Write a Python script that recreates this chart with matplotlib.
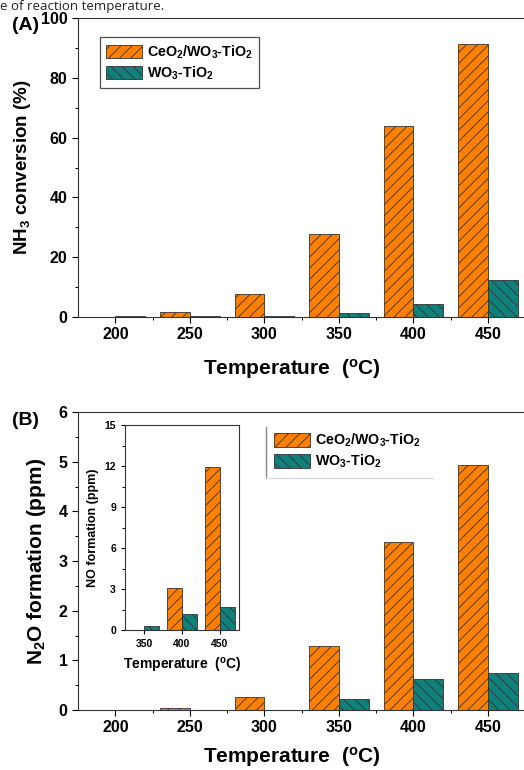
import matplotlib
matplotlib.use("Agg")
from matplotlib import pyplot as plt
from matplotlib.ticker import MultipleLocator
from matplotlib.lines import Line2D

plt.rcParams["font.family"] = ["Liberation Sans", "DejaVu Sans"]
plt.rcParams["font.weight"] = "bold"
plt.rcParams["axes.labelweight"] = "bold"
plt.rcParams["mathtext.fontset"] = "custom"
plt.rcParams["mathtext.rm"] = "Liberation Sans:bold"
plt.rcParams["mathtext.it"] = "Liberation Sans:bold"
plt.rcParams["mathtext.bf"] = "Liberation Sans:bold"
plt.rcParams["mathtext.default"] = "regular"
plt.rcParams["hatch.linewidth"] = 0.6
plt.rcParams["hatch.color"] = "#2a2a2a"

# data
temps = [200, 250, 300, 350, 400, 450]
nh3_ce = [0.0, 1.7, 7.7, 27.8, 64.0, 91.3]
nh3_w = [0.3, 0.3, 0.3, 1.4, 4.4, 12.4]
n2o_ce = [0.0, 0.04, 0.27, 1.29, 3.39, 4.93]
n2o_w = [0.0, 0.0, 0.0, 0.22, 0.62, 0.74]
no_temps = [350, 400, 450]
no_ce = [0.0, 3.07, 11.9]
no_w = [0.3, 1.17, 1.68]

ORANGE = "#ff8000"
TEAL = "#11807b"
lab_ce = r"CeO$_2$/WO$_3$-TiO$_2$"
lab_w = r"WO$_3$-TiO$_2$"
xlab = r"Temperature  ($^{o}$C)"

fig = plt.figure(figsize=(5.24, 7.7), dpi=100)


def style_axis(ax, fs):
    for s in ax.spines.values():
        s.set_linewidth(0.8)
        s.set_color("#333333")
    ax.tick_params(which="major", direction="out", length=4, width=0.8, labelsize=fs)
    ax.tick_params(which="minor", direction="out", length=2.5, width=0.7)
    ax.tick_params(top=False, right=False)


def draw_bars(ax, x, a, b, w):
    ax.bar(x, a, width=-w, align="edge", color=ORANGE, edgecolor="#333333",
           linewidth=0.6, hatch="///", label=lab_ce)
    ax.bar(x, b, width=w, align="edge", color=TEAL, edgecolor="#333333",
           linewidth=0.6, hatch="\\\\\\", label=lab_w)


leg_kw = dict(loc="upper left", fontsize=10.3, handlelength=2.5, handleheight=1.05,
              borderpad=0.45, labelspacing=0.25, handletextpad=0.35,
              borderaxespad=0)

# panel A
axA = fig.add_axes([0.149, 0.5883, 0.853, 0.3883])
draw_bars(axA, temps, nh3_ce, nh3_w, 20)
axA.set_xlim(175, 475)
axA.set_ylim(0, 100)
axA.set_xticks(temps)
axA.set_xticks([225, 275, 325, 375, 425], minor=True)
axA.yaxis.set_major_locator(MultipleLocator(20))
axA.yaxis.set_minor_locator(MultipleLocator(10))
style_axis(axA, 11.5)
axA.set_xlabel(xlab, fontsize=15, labelpad=10)
axA.xaxis.set_label_coords(0.478, -0.135)
axA.set_ylabel(r"NH$_3$ conversion (%)", fontsize=13.5, labelpad=6)
legA = axA.legend(bbox_to_anchor=(0.049, 0.936), frameon=True, fancybox=False,
                  edgecolor="#222222", **leg_kw)
legA.get_frame().set_linewidth(0.9)

# panel B
axB = fig.add_axes([0.149, 0.0779, 0.853, 0.3870])
draw_bars(axB, temps, n2o_ce, n2o_w, 20)
axB.set_xlim(175, 475)
axB.set_ylim(0, 6)
axB.set_xticks(temps)
axB.set_xticks([225, 275, 325, 375, 425], minor=True)
axB.yaxis.set_major_locator(MultipleLocator(1))
axB.yaxis.set_minor_locator(MultipleLocator(0.5))
style_axis(axB, 11.5)
axB.set_xlabel(xlab, fontsize=15, labelpad=10)
axB.xaxis.set_label_coords(0.478, -0.118)
axB.set_ylabel(r"N$_2$O formation (ppm)", fontsize=15, labelpad=8)
legB = axB.legend(bbox_to_anchor=(0.425, 0.955), frameon=False, **leg_kw)
# the legend frame only shows its left and bottom edges
fig.add_artist(Line2D([0.5076, 0.5076], [0.3792, 0.4455], color="#888888", lw=1.0))
fig.add_artist(Line2D([0.5076, 0.826], [0.3792, 0.3792], color="#dddddd", lw=1.0))

# inset of panel B
axI = fig.add_axes([0.2385, 0.1818, 0.2176, 0.2662])
draw_bars(axI, no_temps, no_ce, no_w, 20)
axI.set_xlim(325, 475)
axI.set_ylim(0, 15)
axI.set_xticks(no_temps)
axI.yaxis.set_major_locator(MultipleLocator(3))
axI.yaxis.set_minor_locator(MultipleLocator(1.5))
style_axis(axI, 7.5)
axI.tick_params(which="major", length=3)
axI.tick_params(which="minor", length=2)
axI.set_xlabel(xlab, fontsize=10, labelpad=5)
axI.set_ylabel("NO formation (ppm)", fontsize=9, labelpad=4)

fig.text(0.022, 0.967, "(A)", fontsize=14, ha="left", va="center")
fig.text(0.022, 0.4535, "(B)", fontsize=14, ha="left", va="center")
fig.text(0.0, 1.0, "e of reaction temperature.", fontsize=9.5, fontweight="normal",
         family=["Open Sans", "DejaVu Sans"], ha="left", va="top", color="#222222")

fig.savefig("out.png", dpi=100)
